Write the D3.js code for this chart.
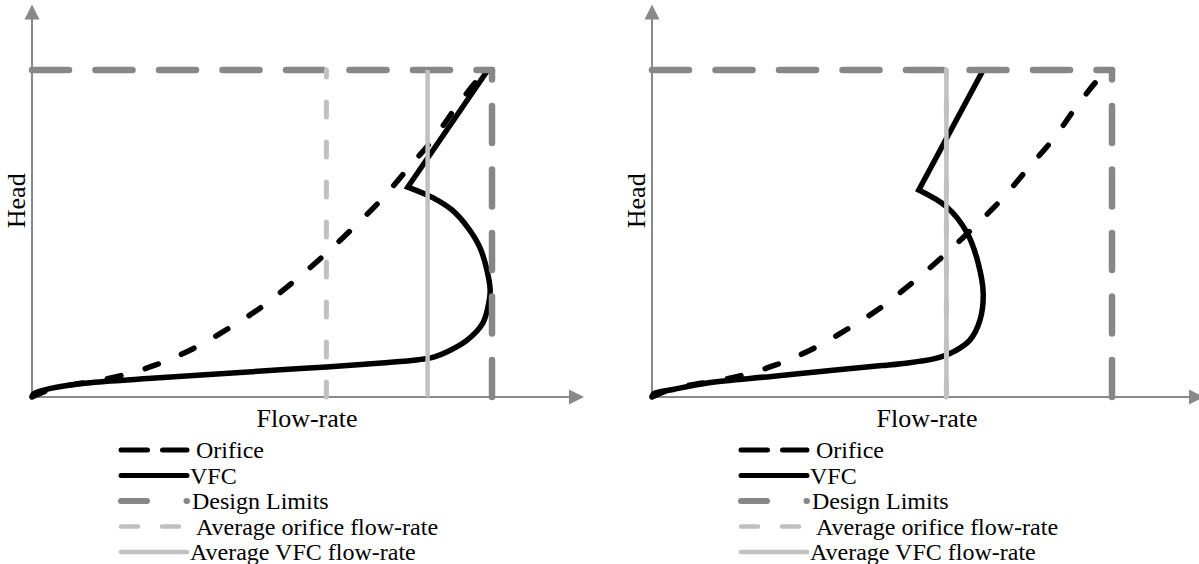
<!DOCTYPE html>
<html><head><meta charset="utf-8">
<script src="https://cdn.jsdelivr.net/npm/d3@7"></script>
<style>html,body{margin:0;padding:0;background:#fff;}svg{display:block;}</style>
</head><body>
<svg id="chart" width="1199" height="564"></svg>
<script>
// ---- data (flow-rate, head in relative units; design limit = 100) ----
const orificeQ = [0, 4.6, 11.5, 18.4, 26.9, 34.9, 42.5, 49.9, 56.8, 63.3, 69.8, 76.1, 81.8, 87.4, 92.4, 97.6, 100];
const orificeH = [0, 2.6, 4.4, 6.2, 9.8, 14.7, 20.8, 27.5, 35.2, 43.1, 51.7, 60.6, 70.0, 79.2, 89.0, 97.9, 100];

// VFC curves: curved part ends at the kink, then a straight part to the top point
const vfcLeftQ = [0, 0.4, 4.6, 12, 26, 41, 54, 64, 76, 84, 87.5, 90.5, 94.6, 98, 99.3, 99.6, 98.9, 97.4, 94.8, 91.3, 87.2, 81.7, 99.1];
const vfcLeftH = [0, 1.0, 2.8, 4.3, 5.7, 7.1, 8.3, 9.2, 10.4, 11.4, 12.3, 14.0, 17.4, 22.6, 28.7, 32.7, 38.8, 45.6, 51.7, 57.2, 60.9, 64.2, 100];
const vfcLeftKink = 21;

const vfcRightQ = [0, 0.4, 4.6, 12, 26, 41, 50, 56, 61, 63.5, 65.8, 69.1, 71.3, 72.0, 70.9, 68.5, 64.1, 58.0, 72.0];
const vfcRightH = [0, 1.0, 2.3, 4.3, 6.3, 8.4, 9.6, 10.5, 11.6, 12.6, 14.0, 17.4, 23.5, 31.8, 41.0, 50.2, 58.1, 63.3, 100];
const vfcRightKink = 17;

const designQ = 100, designH = 100;
const avgOrifice = [64, 64];   // left, right
const avgVFC = [86, 64];       // left, right

const xLabel = "Flow-rate", yLabel = "Head";
const legendLabels = ["Orifice", "VFC", "Design Limits", "Average orifice flow-rate", "Average VFC flow-rate"];

// ---- drawing ----
const svg = d3.select("#chart");
const FONT = "'Liberation Serif','Times New Roman',serif";
const AXIS = "#898989", DESIGN = "#878787", LIGHT = "#c0c0c0";

function panel(x0, vfcQ, vfcH, kink, avgO, avgV) {
  const x = d3.scaleLinear().domain([0, 120]).range([x0, x0 + 552]);
  const y = d3.scaleLinear().domain([0, 120]).range([397, 4.6]);
  const g = svg.append("g");

  // axes with arrows
  g.append("line").attr("x1", x(0)).attr("y1", y(0)).attr("x2", x(120) - 14).attr("y2", y(0))
    .attr("stroke", AXIS).attr("stroke-width", 2);
  g.append("path").attr("d", `M${x(120)},${y(0)} L${x(120)-15},${y(0)-7.5} L${x(120)-15},${y(0)+7.5}Z`).attr("fill", AXIS);
  g.append("line").attr("x1", x(0)).attr("y1", y(0)).attr("x2", x(0)).attr("y2", y(120) + 14)
    .attr("stroke", AXIS).attr("stroke-width", 2);
  g.append("path").attr("d", `M${x(0)},${y(120)} L${x(0)-7.5},${y(120)+15} L${x(0)+7.5},${y(120)+15}Z`).attr("fill", AXIS);

  const smooth = d3.line().x(d => x(d[0])).y(d => y(d[1])).curve(d3.curveCatmullRom.alpha(0.5));
  const lin = d3.line().x(d => x(d[0])).y(d => y(d[1]));

  // orifice
  g.append("path").datum(orificeQ.map((q, i) => [q, orificeH[i]])).attr("d", smooth)
    .attr("fill", "none").attr("stroke", "#000").attr("stroke-width", 5.5)
    .attr("stroke-dasharray", "14,25").attr("stroke-linecap", "round");
  // VFC
  const pts = vfcQ.map((q, i) => [q, vfcH[i]]);
  const curved = smooth(pts.slice(0, kink + 1));
  const straight = pts.slice(kink + 1).map(p => `L${x(p[0])},${y(p[1])}`).join("");
  g.append("path").attr("d", curved + straight)
    .attr("fill", "none").attr("stroke", "#000").attr("stroke-width", 5.5)
    .attr("stroke-linejoin", "miter");
  // design limits
  [[[0, designH], [designQ, designH]], [[designQ, 0], [designQ, designH]]].forEach(seg => {
    g.append("path").attr("d", lin(seg)).attr("fill", "none").attr("stroke", DESIGN)
      .attr("stroke-width", 6.5).attr("stroke-dasharray", "37,26.5").attr("stroke-linecap", "round");
  });
  // averages
  g.append("path").attr("d", lin([[avgO, 0], [avgO, designH]])).attr("fill", "none").attr("stroke", LIGHT)
    .attr("stroke-width", 5).attr("stroke-dasharray", "15,25").attr("stroke-linecap", "round");
  g.append("path").attr("d", lin([[avgV, 0], [avgV, designH]])).attr("fill", "none").attr("stroke", LIGHT)
    .attr("stroke-width", 4.5);

  // axis titles
  g.append("text").attr("x", x0 + 275).attr("y", 427).attr("text-anchor", "middle")
    .attr("font-family", FONT).attr("font-size", 26).text(xLabel);
  g.append("text").attr("transform", `translate(${x0 - 7},${y(60)}) rotate(-90)`).attr("text-anchor", "middle")
    .attr("font-family", FONT).attr("font-size", 26).text(yLabel);

  // legend
  const styles = [
    {c: "#000", w: 5, d: "26.5,15", tx: 164},
    {c: "#000", w: 5, d: null, tx: 158},
    {c: DESIGN, w: 6, d: "26,39.5", tx: 160},
    {c: LIGHT, w: 4.5, d: "17,24", tx: 164},
    {c: LIGHT, w: 4.5, d: null, tx: 158}
  ];
  legendLabels.forEach((lab, i) => {
    const cy = 450 + 25.5 * i;
    const s = styles[i];
    const l = g.append("line").attr("x1", x0 + 89).attr("x2", x0 + 155).attr("y1", cy).attr("y2", cy)
      .attr("stroke", s.c).attr("stroke-width", s.w).attr("stroke-linecap", "round");
    if (s.d) l.attr("stroke-dasharray", s.d);
    g.append("text").attr("x", x0 + s.tx).attr("y", cy + 8).attr("font-family", FONT).attr("font-size", 24).text(lab);
  });
}

panel(32, vfcLeftQ, vfcLeftH, vfcLeftKink, avgOrifice[0], avgVFC[0]);
panel(652, vfcRightQ, vfcRightH, vfcRightKink, avgOrifice[1], avgVFC[1]);
</script>
</body></html>
